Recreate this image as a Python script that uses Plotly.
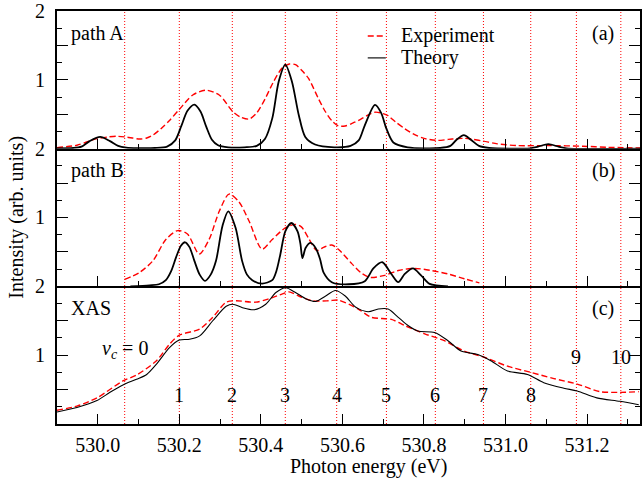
import plotly.graph_objects as go
from plotly.subplots import make_subplots

# ---------------- data ----------------
# Panel (a) path A
a_theory_E = [529.90, 529.94, 529.96, 529.98, 530.006, 530.03, 530.05, 530.07, 530.10, 530.14, 530.17,
              530.19, 530.205, 530.22, 530.237, 530.252, 530.266, 530.28, 530.295, 530.32, 530.36, 530.39,
              530.41, 530.428, 530.444, 530.46, 530.476, 530.493, 530.509, 530.533, 530.58, 530.62, 530.64,
              530.655, 530.68, 530.695, 530.708, 530.725, 530.76, 530.84, 530.865, 530.88, 530.898, 530.915,
              530.935, 530.96, 531.06, 531.08, 531.105, 531.13, 531.15, 531.33]
a_theory_I = [0.005, 0.01, 0.03, 0.11, 0.17, 0.11, 0.04, 0.015, 0.008, 0.01, 0.03,
              0.12, 0.33, 0.55, 0.64, 0.54, 0.32, 0.13, 0.05, 0.02, 0.02, 0.04,
              0.14, 0.44, 0.98, 1.22, 0.98, 0.49, 0.17, 0.06, 0.02, 0.04, 0.12,
              0.34, 0.635, 0.52, 0.29, 0.09, 0.02, 0.01, 0.04, 0.13, 0.196, 0.13,
              0.04, 0.01, 0.005, 0.03, 0.065, 0.03, 0.005, 0.0]
a_exp_E = [529.90, 529.949, 529.975, 529.998, 530.025, 530.046, 530.067, 530.085, 530.103, 530.12, 530.136,
           530.155, 530.176, 530.20, 530.233, 530.265, 530.298, 530.331, 530.35, 530.371, 530.39, 530.411,
           530.43, 530.452, 530.47, 530.485, 530.50, 530.517, 530.541, 530.558, 530.575, 530.59, 530.607,
           530.625, 530.64, 530.66, 530.68, 530.70, 530.712, 530.73, 530.753, 530.775, 530.80, 530.834,
           530.86, 530.88, 530.899, 530.92, 530.946, 530.98, 531.03, 531.11, 531.19, 531.25, 531.33]
a_exp_I = [0.015, 0.05, 0.10, 0.146, 0.17, 0.18, 0.17, 0.155, 0.14, 0.155, 0.20,
           0.29, 0.41, 0.57, 0.78, 0.85, 0.78, 0.54, 0.46, 0.43, 0.52, 0.73,
           0.96, 1.17, 1.23, 1.22, 1.14, 1.02, 0.73, 0.54, 0.40, 0.33, 0.33,
           0.37, 0.41, 0.48, 0.53, 0.51, 0.48, 0.39, 0.29, 0.21, 0.15, 0.12,
           0.135, 0.145, 0.15, 0.135, 0.11, 0.07, 0.045, 0.045, 0.035, 0.02, 0.01]

# Panel (b) path B
b_theory_E = [530.08, 530.127, 530.15, 530.167, 530.18, 530.192, 530.204, 530.214, 530.225, 530.237, 530.25,
              530.263, 530.277, 530.29, 530.306, 530.32, 530.338, 530.354, 530.366, 530.379, 530.403, 530.428,
              530.438, 530.448, 530.46, 530.475, 530.49, 530.497, 530.502, 530.51, 530.522, 530.535, 530.545,
              530.554, 530.574, 530.615, 530.655, 530.676, 530.698, 530.72, 530.737, 530.753, 530.773, 530.793,
              530.814, 530.859]
b_theory_I = [0.0, 0.015, 0.03, 0.09, 0.22, 0.42, 0.59, 0.64, 0.57, 0.37, 0.17,
              0.08, 0.17, 0.37, 0.88, 1.09, 0.85, 0.37, 0.17, 0.09, 0.04, 0.09,
              0.22, 0.47, 0.80, 0.92, 0.80, 0.62, 0.41, 0.56, 0.63, 0.55, 0.40,
              0.20, 0.06, 0.03, 0.075, 0.26, 0.35, 0.18, 0.06, 0.18, 0.26, 0.16,
              0.035, 0.0]
b_exp_E = [530.066, 530.102, 530.135, 530.167, 530.196, 530.22, 530.249, 530.273, 530.298, 530.322, 530.346,
           530.371, 530.403, 530.428, 530.46, 530.485, 530.50, 530.517, 530.537, 530.555, 530.574, 530.59,
           530.623, 530.645, 530.668, 530.704, 530.737, 530.777, 530.818, 530.859, 530.899, 530.936]
b_exp_I = [0.10, 0.20, 0.37, 0.68, 0.81, 0.76, 0.47, 0.68, 1.09, 1.34, 1.23,
           0.95, 0.54, 0.68, 0.85, 0.90, 0.86, 0.70, 0.52, 0.57, 0.60, 0.54,
           0.33, 0.20, 0.13, 0.16, 0.23, 0.26, 0.23, 0.18, 0.11, 0.05]

# Panel (c) XAS
c_theory_E = [529.90, 529.949, 529.998, 530.03, 530.063, 530.095, 530.12, 530.144, 530.176, 530.20, 530.225,
              530.25, 530.282, 530.315, 530.331, 530.355, 530.384, 530.412, 530.437, 530.461, 530.485, 530.51,
              530.534, 530.559, 530.583, 530.607, 530.632, 530.663, 530.688, 530.712, 530.737, 530.761, 530.785,
              530.826, 530.859, 530.891, 530.932, 530.964, 531.005, 531.054, 531.094, 531.143, 531.176, 531.224,
              531.281, 531.327]
c_theory_I = [0.175, 0.24, 0.34, 0.46, 0.57, 0.65, 0.72, 0.87, 1.11, 1.22, 1.23,
              1.28, 1.50, 1.71, 1.74, 1.69, 1.66, 1.74, 1.91, 1.98, 1.91, 1.82,
              1.78, 1.86, 1.94, 1.86, 1.70, 1.63, 1.67, 1.67, 1.55, 1.43, 1.35,
              1.33, 1.21, 1.06, 1.01, 0.92, 0.77, 0.72, 0.60, 0.52, 0.48, 0.38,
              0.33, 0.28]
c_exp_E = [529.90, 529.949, 529.998, 530.063, 530.095, 530.144, 530.176, 530.20, 530.25, 530.282, 530.315,
           530.339, 530.388, 530.42, 530.453, 530.469, 530.493, 530.526, 530.567, 530.59, 530.639, 530.671,
           530.72, 530.753, 530.802, 530.85, 530.899, 530.948, 531.005, 531.062, 531.119, 531.176, 531.232,
           531.281, 531.327]
c_exp_I = [0.20, 0.26, 0.38, 0.63, 0.71, 0.92, 1.16, 1.29, 1.38, 1.55, 1.77,
           1.79, 1.77, 1.82, 1.89, 1.92, 1.86, 1.79, 1.79, 1.80, 1.67, 1.55,
           1.52, 1.43, 1.31, 1.21, 1.06, 0.97, 0.84, 0.75, 0.66, 0.58, 0.47,
           0.46, 0.47]

# Vibrational levels v_c of the core-excited state
vc_energies = [530.066, 530.200, 530.330, 530.460, 530.586, 530.708, 530.828, 530.946, 531.062, 531.174, 531.283]
vc_labels = ["<i>v</i><sub><i>c</i></sub> = 0", "1", "2", "3", "4", "5", "6", "7", "8", "9", "10"]

panel_names = ["path A", "path B", "XAS"]
panel_tags = ["(a)", "(b)", "(c)"]
legend_names = ["Experiment", "Theory"]
x_ticks = [530.0, 530.2, 530.4, 530.6, 530.8, 531.0, 531.2]

# ---------------- figure ----------------
FONT = "Liberation Serif"
RED = "#ff0000"
TXT = dict(family=FONT, size=20, color="black")
DASH = "6px,3px"

fig = make_subplots(rows=3, cols=1, shared_xaxes=True, vertical_spacing=0)

series = [(a_exp_E, a_exp_I, a_theory_E, a_theory_I, 1.8),
          (b_exp_E, b_exp_I, b_theory_E, b_theory_I, 1.8),
          (c_exp_E, c_exp_I, c_theory_E, c_theory_I, 1.1)]

for i, (eE, eI, tE, tI, tw) in enumerate(series):
    row = i + 1
    fig.add_trace(go.Scatter(x=eE, y=eI, mode="lines", name=legend_names[0],
                             line=dict(color=RED, width=1.4, dash=DASH, shape="spline", smoothing=0.8),
                             showlegend=False), row=row, col=1)
    fig.add_trace(go.Scatter(x=tE, y=tI, mode="lines", name=legend_names[1],
                             line=dict(color="black", width=tw, shape="spline", smoothing=0.8),
                             showlegend=False), row=row, col=1)

# vertical dotted lines across all panels
for e in vc_energies:
    fig.add_shape(type="line", xref="x3", yref="paper", x0=e, x1=e, y0=0, y1=1,
                  line=dict(color=RED, width=1, dash="1px,2px"), layer="below")

# vc labels in panel (c)
label_y = [1.08] + [0.42] * 8 + [0.97, 0.97]
for e, lab, ly in zip(vc_energies, vc_labels, label_y):
    fig.add_annotation(x=e, y=ly, xref="x3", yref="y3", text=lab, showarrow=False,
                       font=TXT, xanchor="center", yanchor="middle")

# panel names and tags
for i in range(3):
    ax = "" if i == 0 else str(i + 1)
    fig.add_annotation(x=0.02, y=0.84, xref=f"x{ax} domain", yref=f"y{ax} domain", text=panel_names[i],
                       showarrow=False, xanchor="left", yanchor="middle", font=TXT)
    fig.add_annotation(x=0.937, y=0.84, xref=f"x{ax} domain", yref=f"y{ax} domain", text=panel_tags[i],
                       showarrow=False, xanchor="center", yanchor="middle", font=TXT)

# manual legend (short samples like the original)
leg_y = [0.9396, 0.8865]
leg_styles = [dict(color=RED, width=1.4, dash=DASH), dict(color="#333333", width=1.4)]
for name, ly, st in zip(legend_names, leg_y, leg_styles):
    fig.add_shape(type="line", xref="paper", yref="paper", x0=0.533, x1=0.564, y0=ly, y1=ly, line=st)
    fig.add_annotation(x=0.586, y=ly, xref="paper", yref="paper", text=name, showarrow=False,
                       xanchor="left", yanchor="middle", font=TXT)

# axis titles
fig.add_annotation(x=-0.07, y=0.5, xref="paper", yref="paper", text="Intensity (arb. units)",
                   textangle=-90, showarrow=False, xanchor="center", yanchor="middle", font=TXT)
fig.add_annotation(x=0.535, y=-0.103, xref="paper", yref="paper", text="Photon energy (eV)",
                   showarrow=False, xanchor="center", yanchor="middle", font=TXT)

for r in range(1, 4):
    fig.update_xaxes(range=[529.9, 531.33], showline=True, linecolor="black", linewidth=1.8,
                     mirror=(r == 1),
                     ticks="inside", ticklen=10, tickwidth=1.4, tickcolor="black",
                     tickvals=x_ticks, ticktext=[f"{v:.1f}" for v in x_ticks],
                     minor=dict(dtick=0.1, tick0=530.0, ticks="inside", ticklen=5, tickwidth=1.4, tickcolor="black"),
                     showgrid=False, zeroline=False, showticklabels=(r == 3), ticklabelstandoff=2,
                     tickfont=TXT, row=r, col=1)
    fig.update_yaxes(range=[0, 2], showline=True, linecolor="black", linewidth=1.8, mirror="ticks",
                     ticks="inside", ticklen=11, tickwidth=1.4, tickcolor="black",
                     tickvals=[0, 0.5, 1, 1.5, 2], ticktext=["", "", "1", "", "2"],
                     minor=dict(dtick=0.25, tick0=0, ticks="inside", ticklen=5, tickwidth=1.4, tickcolor="black"),
                     showgrid=False, zeroline=False, ticklabelstandoff=6,
                     tickfont=TXT, row=r, col=1)

fig.update_layout(
    width=642, height=482,
    margin=dict(l=57, r=0, t=10, b=58),
    paper_bgcolor="white", plot_bgcolor="white",
    font=TXT,
    showlegend=False,
)

fig.write_html("out.html")
